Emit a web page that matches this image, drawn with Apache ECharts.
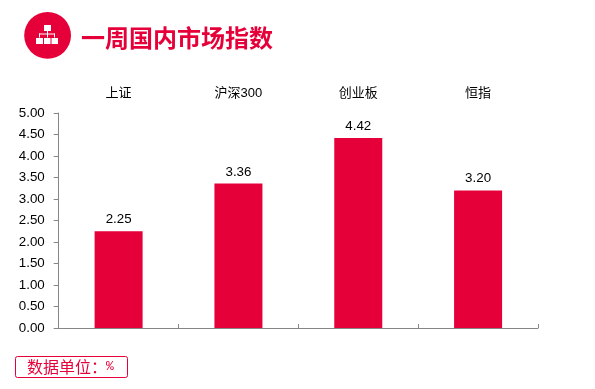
<!DOCTYPE html>
<html><head><meta charset="utf-8">
<style>html,body{margin:0;padding:0;background:#fff}#c{width:595px;height:389px}</style>
<script src="https://cdn.jsdelivr.net/npm/echarts@6/dist/echarts.min.js"></script>
</head><body><div id="c"></div>
<script>
const categories = ['上证','沪深300','创业板','恒指'];
const values = [2.25,3.36,4.42,3.20];
const titleText = '一周国内市场指数';
const unitLabel = '数据单位：';
const unitSign = '%';
const red = '#E60039';
const font = '"Liberation Sans","Noto Sans CJK SC",sans-serif';
const chart = echarts.init(document.getElementById('c'),null,{renderer:'canvas'});
chart.setOption({
  animation:false,
  grid:{left:58.7,right:57,top:113,bottom:61},
  xAxis:[{
    type:'category',data:categories,position:'bottom',
    axisLine:{lineStyle:{color:'#868686',width:1}},
    axisTick:{show:true,interval:0,inside:true,length:4,lineStyle:{color:'#868686'},alignWithLabel:false},
    axisLabel:{show:false}
  },{
    type:'category',data:categories,position:'top',offset:5,
    axisLine:{show:false},axisTick:{show:false},
    axisLabel:{color:'#000',fontSize:13,fontFamily:font,interval:0}
  }],
  yAxis:{
    type:'value',min:0,max:5,interval:0.5,
    axisLine:{show:true,lineStyle:{color:'#868686',width:1}},
    axisTick:{show:true,length:5,lineStyle:{color:'#868686'}},
    splitLine:{show:false},
    axisLabel:{color:'#000',fontSize:13.33,fontFamily:font,margin:14,padding:[2,0,0,0],formatter:v=>v.toFixed(2)}
  },
  series:[{
    type:'bar',data:values,barWidth:48,xAxisIndex:0,
    itemStyle:{color:red},
    label:{show:true,position:'top',distance:5,color:'#000',fontSize:13.33,fontFamily:font,formatter:p=>p.value.toFixed(2)}
  }],
  graphic:[
    {type:'circle',shape:{cx:47.6,cy:35.4,r:23.4},style:{fill:red},silent:true},
    {type:'rect',shape:{x:44,y:25,width:7,height:6},style:{fill:'#fff'}},
    {type:'rect',shape:{x:47,y:31,width:1,height:3},style:{fill:'#fff'}},
    {type:'rect',shape:{x:39,y:33.5,width:16,height:1},style:{fill:'#fff'}},
    {type:'rect',shape:{x:39,y:33.5,width:1,height:4},style:{fill:'#fff'}},
    {type:'rect',shape:{x:47,y:33.5,width:1,height:4},style:{fill:'#fff'}},
    {type:'rect',shape:{x:54,y:33.5,width:1,height:4},style:{fill:'#fff'}},
    {type:'rect',shape:{x:36,y:38,width:7,height:6},style:{fill:'#fff'}},
    {type:'rect',shape:{x:44,y:38,width:6.5,height:6},style:{fill:'#fff'}},
    {type:'rect',shape:{x:51.5,y:38,width:6.5,height:6},style:{fill:'#fff'}},
    {type:'text',x:81,y:38,style:{text:titleText,fill:red,font:'bold 24px "Noto Sans CJK SC",sans-serif',textVerticalAlign:'middle'}},
    {type:'rect',shape:{x:15.5,y:356.5,width:112,height:21,r:2},style:{fill:'#fff',stroke:red,lineWidth:1}},
    {type:'text',x:27,y:367,style:{text:unitLabel,fill:red,font:'16px "Noto Sans CJK SC",sans-serif',textVerticalAlign:'middle'}},
    {type:'text',x:106,y:367,style:{text:unitSign,fill:red,font:'13px "Liberation Mono",monospace',textVerticalAlign:'middle'}}
  ]
});
</script></body></html>
